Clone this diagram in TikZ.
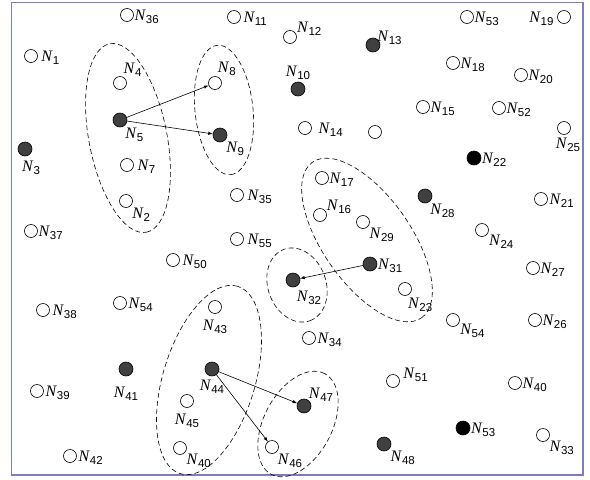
\documentclass[tikz,border=0pt]{standalone}
\usepackage{fontspec}
\setmainfont{Liberation Serif}
\setsansfont{Liberation Sans}
\usetikzlibrary{arrows}
\definecolor{headgray}{RGB}{64,64,64}
\definecolor{framecol}{RGB}{125,125,190}
\newcommand{\nid}[1]{\textit{N}\raisebox{-3pt}{\fontsize{11.5}{11.5}\selectfont\sffamily #1}}
\tikzstyle{sensor} = [circle, draw=black, line width=0.6pt, minimum size=13pt, inner sep=0pt]
\tikzstyle{head} = [sensor, minimum size=14pt, fill=headgray]
\tikzstyle{sink} = [sensor, minimum size=14pt, fill=black]
\tikzstyle{arrow} = [line width=0.6pt,->,>=latex]
\tikzstyle{cluster} = [line width=0.6pt, dash pattern=on 5pt off 3pt]
\tikzset{every label/.style={inner sep=0.5pt, yshift=-2pt, font=\fontsize{16}{16}\selectfont}}

\begin{document}
\begin{tikzpicture}[x=1pt, y=-1pt]
    \useasboundingbox (0,0) rectangle (590,480);
    \draw [framecol, line width=1.5pt] (11.5,2.5) rectangle (583,475);

    \node (n36) [sensor, label={right:\nid{36}}] at (127,15) {};
    \node (n11) [sensor, label={[label distance=2pt]right:\nid{11}}] at (234,17) {};
    \node (n1) [sensor, label={[label distance=3pt]right:\nid{1}}] at (31,56) {};
    \node (n12) [sensor, label={20:\nid{12}}] at (290,37) {};
    \node (n13) [head, label={[label distance=-3pt]30:\nid{13}}] at (373,45) {};
    \node (n53_top) [sensor, label={right:\nid{53}}] at (467,17) {};
    \node (n19) [sensor, label={[label distance=3pt]left:\nid{19}}] at (564,17) {};
    \node (n4) [sensor, label={[label distance=2pt]70:\nid{4}}] at (120,83) {};
    \node (n8) [sensor, label={[label distance=2pt]75:\nid{8}}] at (215,83) {};
    \node (n10) [head, label={[label distance=3pt]above:\nid{10}}] at (298,89) {};
    \node (n18) [sensor, label={right:\nid{18}}] at (453,63) {};
    \node (n20) [sensor, label={right:\nid{20}}] at (521,75) {};
    \node (n5) [head, label={-50:\nid{5}}] at (120,120) {};
    \node (n9) [head, label={-40:\nid{9}}] at (220,135) {};
    \node (n14) [sensor, label={[label distance=6pt]right:\nid{14}}] at (305,128) {};
    \node (n_free) [sensor] at (375,132) {};
    \node (n15) [sensor, label={right:\nid{15}}] at (423,107) {};
    \node (n52) [sensor, label={right:\nid{52}}] at (499,108) {};
    \node (n25) [sensor, label={[label distance=1pt, xshift=4pt]below:\nid{25}}] at (564,128) {};
    \node (n22) [sink, label={right:\nid{22}}] at (474,158) {};
    \node (n3) [head, label={[label distance=2pt, xshift=6pt]below:\nid{3}}] at (25,149) {};
    \node (n7) [sensor, label={[label distance=3pt]right:\nid{7}}] at (127,165) {};
    \node (n2) [sensor, label={-35:\nid{2}}] at (126,201) {};
    \node (n35) [sensor, label={[label distance=3pt]right:\nid{35}}] at (237,195) {};
    \node (n17) [sensor, label={right:\nid{17}}] at (322,178) {};
    \node (n16) [sensor, label={25:\nid{16}}] at (320,215) {};
    \node (n29) [sensor, label={-30:\nid{29}}] at (363,222) {};
    \node (n28) [head, label={-50:\nid{28}}] at (425,196) {};
    \node (n21) [sensor, label={[label distance=1pt]right:\nid{21}}] at (541,199) {};
    \node (n37) [sensor, label={right:\nid{37}}] at (31,231) {};
    \node (n24) [sensor, label={-20:\nid{24}}] at (482,230) {};
    \node (n55) [sensor, label={[label distance=3pt]right:\nid{55}}] at (237,239) {};
    \node (n50) [sensor, label={[label distance=2pt]right:\nid{50}}] at (173,260) {};
    \node (n31) [head, label={right:\nid{31}}] at (370,264) {};
    \node (n32) [head, label={[label distance=2pt]-70:\nid{32}}] at (293,280) {};
    \node (n23) [sensor, label={-70:\nid{23}}] at (405,289) {};
    \node (n27) [sensor, label={right:\nid{27}}] at (533,268) {};
    \node (n54_left) [sensor, label={[label distance=1pt]right:\nid{54}}] at (120,303) {};
    \node (n38) [sensor, label={[label distance=2pt]right:\nid{38}}] at (43,310) {};
    \node (n43) [sensor, label={[label distance=4pt]below:\nid{43}}] at (215,307) {};
    \node (n34) [sensor, label={[label distance=1pt]right:\nid{34}}] at (309,338) {};
    \node (n54_right) [sensor, label={-15:\nid{54}}] at (453,320) {};
    \node (n26) [sensor, label={right:\nid{26}}] at (535,320) {};
    \node (n41) [head, label={[label distance=8pt]below:\nid{41}}] at (126,369) {};
    \node (n44) [head, label={[label distance=1pt]below:\nid{44}}] at (212,369) {};
    \node (n39) [sensor, label={[label distance=1pt]right:\nid{39}}] at (37,391) {};
    \node (n45) [sensor, label={[label distance=4pt]below:\nid{45}}] at (187,401) {};
    \node (n47) [head, label={55:\nid{47}}] at (304,406) {};
    \node (n51) [sensor, label={[label distance=3pt]5:\nid{51}}] at (393,381) {};
    \node (n40_right) [sensor, label={right:\nid{40}}] at (515,383) {};
    \node (n40_left) [sensor, label={-30:\nid{40}}] at (180,448) {};
    \node (n46) [sensor, label={-40:\nid{46}}] at (272,447) {};
    \node (n53_bot) [sink, label={right:\nid{53}}] at (463,428) {};
    \node (n48) [head, label={-35:\nid{48}}] at (384,444) {};
    \node (n33) [sensor, label={-30:\nid{33}}] at (543,435) {};
    \node (n42) [sensor, label={[label distance=1pt]right:\nid{42}}] at (70,456) {};

    \draw [cluster, rotate around={-79:(128,138)}] (128,138) ellipse [x radius=96pt, y radius=39pt];
    \draw [cluster, rotate around={-84:(224,110)}] (224,110) ellipse [x radius=65pt, y radius=29pt];
    \draw [cluster, rotate around={-55:(367,240)}] (367,240) ellipse [x radius=95pt, y radius=44pt];
    \draw [cluster, rotate around={-70:(297,285)}] (297,285) ellipse [x radius=38pt, y radius=29pt];
    \draw [cluster, rotate around={73:(209,380)}] (209,380) ellipse [x radius=98pt, y radius=46pt];
    \draw [cluster, rotate around={62:(298,424)}] (298,424) ellipse [x radius=57pt, y radius=34pt];

    \draw [arrow] (n5) -- (n8);
    \draw [arrow] (n5) -- (n9);
    \draw [arrow] (n31) -- (n32);
    \draw [arrow] (n44) -- (n47);
    \draw [arrow] (n44) -- (n46);

\end{tikzpicture}
\end{document}
